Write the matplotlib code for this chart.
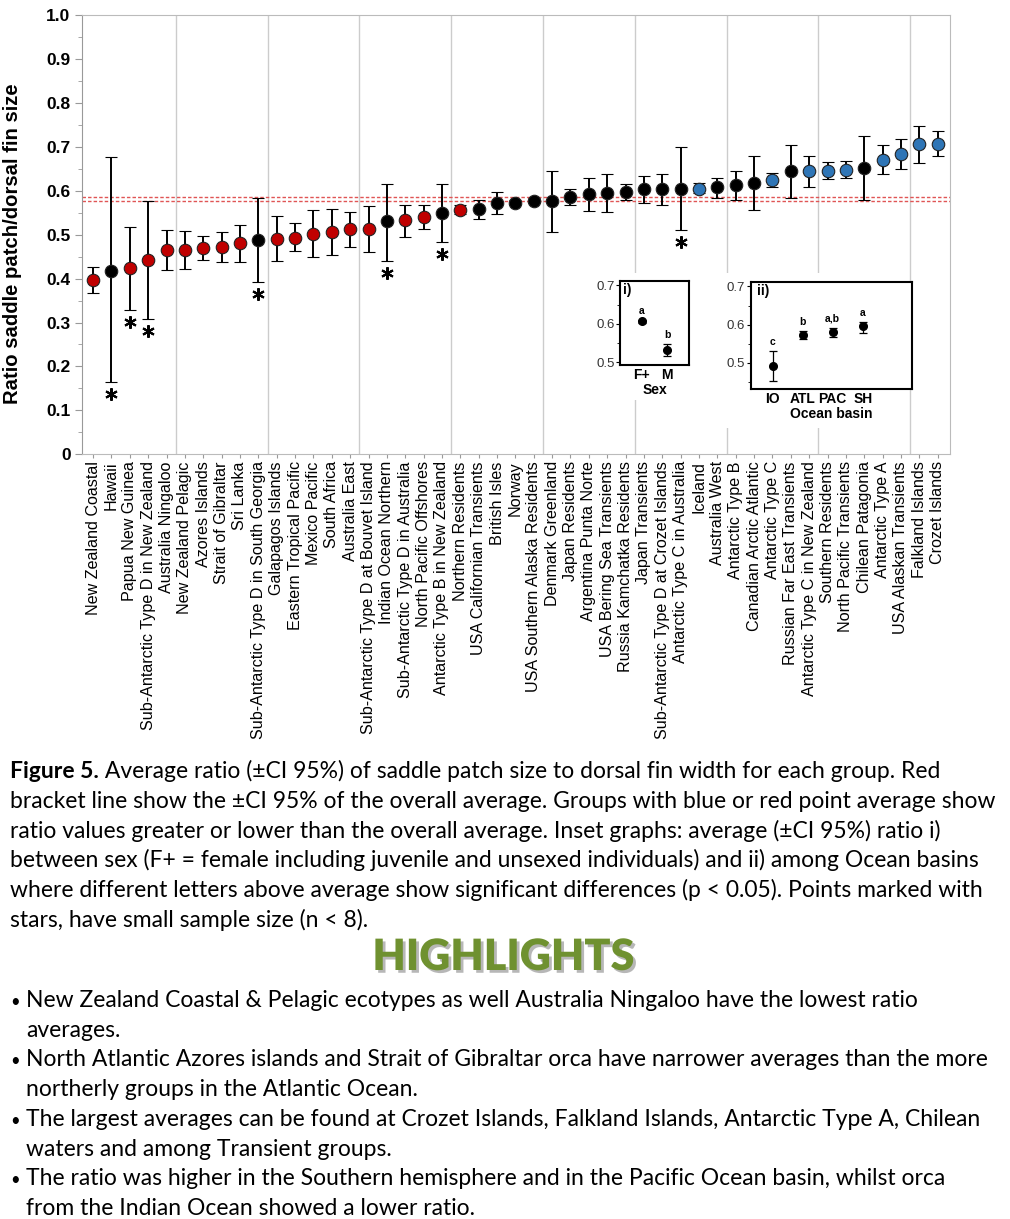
import numpy as np
import matplotlib.pyplot as plt
import matplotlib.patheffects as pe
from matplotlib.patches import Rectangle
from matplotlib.ticker import MultipleLocator, FixedFormatter, FixedLocator

plt.rcParams['font.family'] = ['Liberation Sans', 'DejaVu Sans']

# groups, sorted by mean ratio
groups = ["New Zealand Coastal", "Hawaii", "Papua New Guinea",
          "Sub-Antarctic Type D in New Zealand", "Australia Ningaloo",
          "New Zealand Pelagic", "Azores Islands", "Strait of Gibraltar",
          "Sri Lanka", "Sub-Antarctic Type D in South Georgia",
          "Galapagos Islands", "Eastern Tropical Pacific", "Mexico Pacific",
          "South Africa", "Australia East",
          "Sub-Antarctic Type D at Bouvet Island", "Indian Ocean Northern",
          "Sub-Antarctic Type D in Australia", "North Pacific Offshores",
          "Antarctic Type B in New Zealand", "Northern Residents",
          "USA Californian Transients", "British Isles", "Norway",
          "USA Southern Alaska Residents", "Denmark Greenland",
          "Japan Residents", "Argentina Punta Norte",
          "USA Bering Sea Transients", "Russia Kamchatka Residents",
          "Japan Transients", "Sub-Antarctic Type D at Crozet Islands",
          "Antarctic Type C in Australia", "Iceland", "Australia West",
          "Antarctic Type B", "Canadian Arctic Atlantic", "Antarctic Type C",
          "Russian Far East Transients", "Antarctic Type C in New Zealand",
          "Southern Residents", "North Pacific Transients",
          "Chilean Patagonia", "Antarctic Type A", "USA Alaskan Transients",
          "Falkland Islands", "Crozet Islands"]
means = [0.396, 0.417, 0.423, 0.443, 0.466, 0.466, 0.469, 0.472, 0.480, 0.488,
         0.490, 0.493, 0.501, 0.506, 0.513, 0.513, 0.530, 0.533, 0.540, 0.550,
         0.556, 0.558, 0.573, 0.573, 0.577, 0.577, 0.586, 0.592, 0.595, 0.597,
         0.603, 0.603, 0.605, 0.605, 0.608, 0.613, 0.618, 0.624, 0.644, 0.645,
         0.645, 0.648, 0.651, 0.671, 0.684, 0.706, 0.706]
lower = [0.367, 0.164, 0.329, 0.308, 0.419, 0.422, 0.442, 0.437, 0.437, 0.393,
         0.439, 0.463, 0.448, 0.454, 0.473, 0.460, 0.440, 0.495, 0.513, 0.483,
         0.546, 0.536, 0.548, 0.567, 0.571, 0.507, 0.568, 0.553, 0.551, 0.579,
         0.572, 0.568, 0.511, 0.594, 0.583, 0.578, 0.557, 0.608, 0.583, 0.608,
         0.627, 0.629, 0.579, 0.638, 0.650, 0.663, 0.678]
upper = [0.426, 0.676, 0.518, 0.576, 0.510, 0.508, 0.497, 0.507, 0.522, 0.584,
         0.542, 0.526, 0.555, 0.558, 0.552, 0.566, 0.616, 0.568, 0.568, 0.616,
         0.567, 0.580, 0.596, 0.579, 0.583, 0.646, 0.603, 0.628, 0.637, 0.615,
         0.634, 0.639, 0.700, 0.618, 0.630, 0.645, 0.679, 0.640, 0.703, 0.680,
         0.665, 0.668, 0.725, 0.703, 0.718, 0.748, 0.736]
# r = below overall average, b = above, k = not different
group_cls = "rkrrrrrrrkrrrrrrkrrkrkkkkkkkkkkkkbkkkbkbbbkbbbb"
small_n = [1, 2, 3, 9, 16, 19, 32]

overall_ci = [0.577, 0.586]

sex = ["F+", "M"]
sex_mean = [0.606, 0.531]
sex_lo = [0.601, 0.516]
sex_hi = [0.611, 0.547]
sex_letters = ["a", "b"]

basins = ["IO", "ATL", "PAC", "SH"]
basin_mean = [0.490, 0.572, 0.580, 0.595]
basin_lo = [0.451, 0.561, 0.568, 0.578]
basin_hi = [0.530, 0.583, 0.592, 0.608]
basin_letters = ["c", "b", "a,b", "a"]

colours = {"r": "#c00000", "k": "#000000", "b": "#2e75b6"}

W, H = 1010, 1219
fig = plt.figure(figsize=(W / 100, H / 100), dpi=100)


def box(x0, y0, x1, y1):
    return [x0 / W, 1 - y1 / H, (x1 - x0) / W, (y1 - y0) / H]


ax = fig.add_axes(box(81.7, 15, 950, 454.3))
x = np.arange(len(groups))
for xi, m, lo, hi, c in zip(x, means, lower, upper, group_cls):
    ax.errorbar(xi, m, yerr=[[m - lo], [hi - m]], fmt='o', ms=9,
                mfc=colours[c], mec='#222222', mew=0.8, ecolor='black',
                elinewidth=1.4, capsize=4, capthick=1.4, zorder=3)
ax.plot(x[small_n], np.array(lower)[small_n] - 0.027, ls='none',
        marker=(6, 2, 0), ms=9, mew=1.5, color='black', zorder=3)
for v in overall_ci:
    ax.axhline(v, color='#e05555', ls=(0, (2.5, 1.5)), lw=1.0, zorder=2)
for v in x[4:-1:5] + 0.5:
    ax.axvline(v, color='#cccccc', lw=1, zorder=0)

ax.set_xlim(-0.62, 46.67)
ax.set_ylim(0, 1)
ax.yaxis.set_major_locator(FixedLocator(np.arange(0, 1.01, 0.1)))
ax.yaxis.set_major_formatter(FixedFormatter(
    ["0"] + ["%.1f" % v for v in np.arange(0.1, 1.01, 0.1)]))
ax.yaxis.set_minor_locator(MultipleLocator(0.05))
ax.tick_params(axis='y', which='major', length=5, color='#999999',
               labelsize=12.5, pad=3)
ax.tick_params(axis='y', which='minor', length=3, color='#999999')
for t in ax.get_yticklabels():
    t.set_fontweight('bold')
ax.set_xticks(x)
ax.set_xticklabels(groups, rotation=90, fontsize=11.6)
ax.tick_params(axis='x', length=3, color='#999999', pad=2)
ax.set_ylabel("Ratio saddle patch/dorsal fin size", fontsize=14.6,
              fontweight='bold')
ax.yaxis.set_label_coords(-0.069, 0.479)
for s in ['top', 'right', 'bottom']:
    ax.spines[s].set_color('#bbbbbb')
ax.spines['left'].set_color('#999999')

# white backgrounds behind the insets
for r in [(588, 273, 697, 400), (700, 273, 905, 428)]:
    b = box(*r)
    fig.add_artist(Rectangle((b[0], b[1]), b[2], b[3], transform=fig.transFigure,
                             facecolor='white', edgecolor='none', zorder=1))


def inset(rect, names, m, lo, hi, letters, tag, xl, yl, xlabel):
    a = fig.add_axes(box(*rect), zorder=3)
    xs = np.arange(len(names))
    m = np.array(m)
    a.errorbar(xs, m, yerr=[m - np.array(lo), np.array(hi) - m], fmt='o',
               ms=5.5, color='black', elinewidth=0.9, capsize=3, capthick=0.9)
    for xi, h, lt in zip(xs, hi, letters):
        a.text(xi, h + 0.01, lt, ha='center', va='bottom', fontsize=7.5,
               fontweight='bold')
    a.set_xlim(*xl)
    a.set_ylim(*yl)
    a.set_yticks([0.5, 0.6, 0.7])
    a.set_yticklabels(["0.5", "0.6", "0.7"])
    a.yaxis.set_minor_locator(MultipleLocator(0.05))
    a.tick_params(axis='y', labelsize=9.5, length=3, width=0.8, pad=1,
                  labelcolor='#333333')
    a.tick_params(axis='y', which='minor', length=2)
    a.set_xticks(xs)
    a.set_xticklabels(names, fontweight='bold', fontsize=10)
    a.tick_params(axis='x', length=0, pad=2)
    a.set_xlabel(xlabel, fontweight='bold', fontsize=10, labelpad=1)
    for s in a.spines.values():
        s.set_linewidth(1.5)
    a.text(0.04, 0.98, tag, transform=a.transAxes, ha='left', va='top',
           fontsize=10, fontweight='bold')
    return a


inset((620, 281, 689, 365), sex, sex_mean, sex_lo, sex_hi, sex_letters,
      "i)", (-0.85, 1.85), (0.493, 0.711), "Sex")
inset((750.7, 282.3, 911.7, 389.3), basins, basin_mean, basin_lo, basin_hi,
      basin_letters, "ii)", (-0.73, 4.63), (0.43, 0.711), "Ocean basin")

# caption
cap_font = ['Lato', 'DejaVu Sans']
cap_size = 16.5
caption = ["bracket line show the \u00b1CI 95% of the overall average. Groups with blue or red point average show",
           "ratio values greater or lower than the overall average. Inset graphs: average (\u00b1CI 95%) ratio i)",
           "between sex (F+ = female including juvenile and unsexed individuals) and ii) among Ocean basins",
           "where different letters above average show significant differences (p < 0.05). Points marked with",
           "stars, have small sample size (n < 8)."]
t0 = fig.text(10 / W, 1 - 778.3 / H, "Figure 5.", family=cap_font,
              fontsize=cap_size, fontweight='bold', va='baseline')
fig.canvas.draw()
bb = t0.get_window_extent()
fig.text(bb.x1 / W, 1 - 778.3 / H,
         " Average ratio (\u00b1CI 95%) of saddle patch size to dorsal fin width for each group. Red",
         family=cap_font, fontsize=cap_size, va='baseline')
for i, line in enumerate(caption):
    fig.text(10 / W, 1 - (778.3 + 29.7 * (i + 1)) / H, line, family=cap_font,
             fontsize=cap_size, va='baseline')

fig.text(503 / W, 1 - 970 / H, "HIGHLIGHTS",
         family=['Lato', 'DejaVu Sans'],
         fontsize=31, fontweight='heavy', color='#6f9130', ha='center',
         va='baseline',
         path_effects=[pe.withSimplePatchShadow(offset=(2, -2),
                                                shadow_rgbFace='#888888',
                                                alpha=0.6)])

bullets = [["New Zealand Coastal & Pelagic ecotypes as well Australia Ningaloo have the lowest ratio",
            "averages."],
           ["North Atlantic Azores islands and Strait of Gibraltar orca have narrower averages than the more",
            "northerly groups in the Atlantic Ocean."],
           ["The largest averages can be found at Crozet Islands, Falkland Islands, Antarctic Type A, Chilean",
            "waters and among Transient groups."],
           ["The ratio was higher in the Southern hemisphere and in the Pacific Ocean basin, whilst orca",
            "from the Indian Ocean showed a lower ratio."]]
k = 0
for b in bullets:
    for j, line in enumerate(b):
        yb = 1 - (1007 + 29.7 * k) / H
        if j == 0:
            fig.text(10 / W, yb, "\u2022", family=cap_font, fontsize=12,
                     va='baseline')
        fig.text(26 / W, yb, line, family=cap_font, fontsize=cap_size,
                 va='baseline')
        k += 1

fig.savefig("out.png", dpi=100)
